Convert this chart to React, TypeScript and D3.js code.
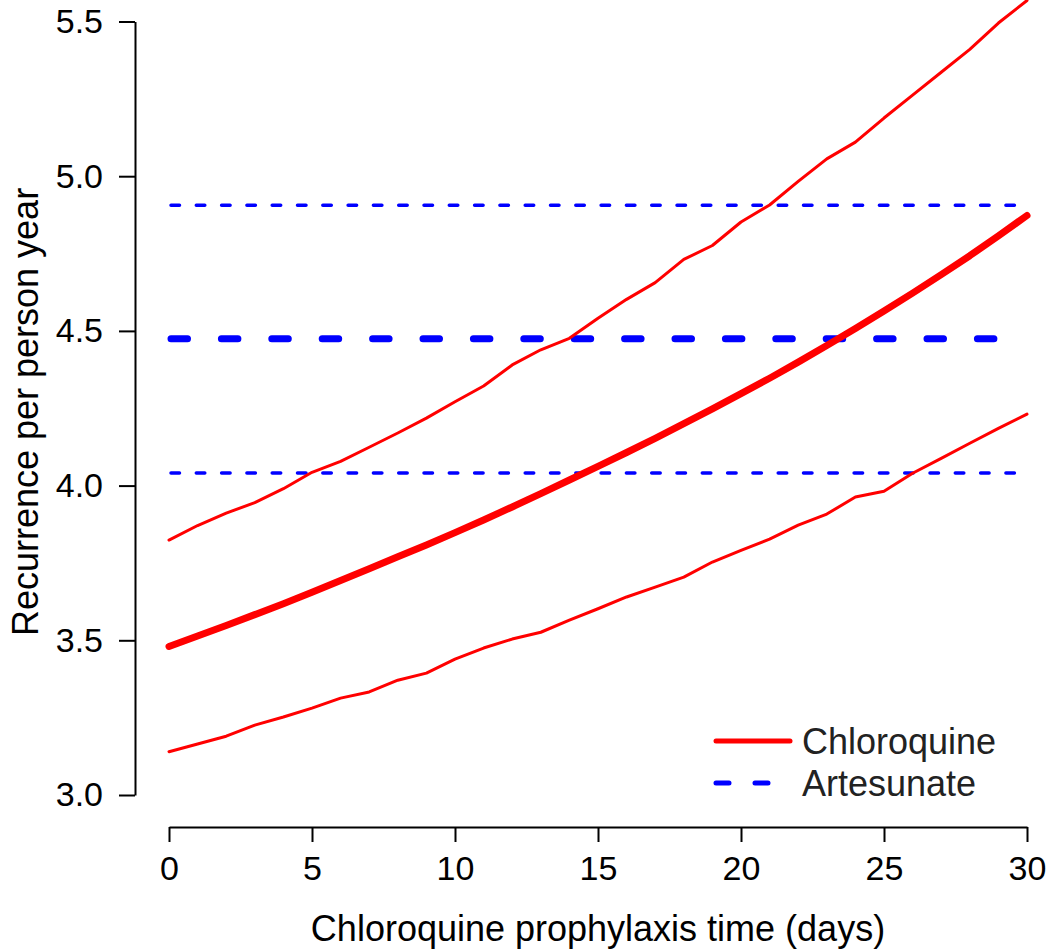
import React, { useEffect, useRef } from "react";
import * as d3 from "d3";

// days of chloroquine prophylaxis
const days = [
  0, 1, 2, 3, 4, 5, 6, 7, 8, 9, 10, 11, 12, 13, 14, 15, 16, 17, 18, 19, 20,
  21, 22, 23, 24, 25, 26, 27, 28, 29, 30,
];

// chloroquine estimate and its bounds
const chloroMid = [
  3.48, 3.514, 3.548, 3.583, 3.618, 3.655, 3.693, 3.731, 3.77, 3.808, 3.848,
  3.889, 3.931, 3.974, 4.018, 4.062, 4.107, 4.153, 4.2, 4.248, 4.297, 4.347,
  4.399, 4.453, 4.508, 4.564, 4.622, 4.682, 4.743, 4.807, 4.873,
];
const chloroUpper = [
  3.824, 3.871, 3.911, 3.945, 3.99, 4.043, 4.078, 4.124, 4.17, 4.218, 4.271,
  4.322, 4.39, 4.439, 4.476, 4.541, 4.602, 4.656, 4.731, 4.776, 4.852, 4.907,
  4.983, 5.056, 5.11, 5.188, 5.262, 5.336, 5.41, 5.495, 5.568,
];
const chloroLower = [
  3.14, 3.165, 3.19, 3.226, 3.252, 3.281, 3.313, 3.333, 3.371, 3.394, 3.439,
  3.475, 3.504, 3.526, 3.565, 3.602, 3.64, 3.672, 3.704, 3.753, 3.791, 3.827,
  3.872, 3.908, 3.963, 3.982, 4.04, 4.088, 4.137, 4.185, 4.231,
];

// artesunate: constant over prophylaxis time
const artesunateMid = 4.475;
const artesunateUpper = 4.906;
const artesunateLower = 4.041;

const xTicks = [0, 5, 10, 15, 20, 25, 30];
const yTicks = [3.0, 3.5, 4.0, 4.5, 5.0, 5.5];

const legendLabels = ["Chloroquine", "Artesunate"];

export default function App() {
  const ref = useRef<SVGSVGElement>(null);

  useEffect(() => {
    const svg = d3.select(ref.current);
    svg.selectAll("*").remove();

    const width = 1053,
      height = 951;
    const font = "'Liberation Sans', Arial, Helvetica, sans-serif";

    const x = d3.scaleLinear().domain([0, 30]).range([169, 1027]);
    const y = d3.scaleLinear().domain([3, 5.5]).range([795, 21.5]);

    svg.attr("width", width).attr("height", height);

    const line = d3
      .line<number>()
      .x((_, i) => x(days[i]))
      .y((d) => y(d));

    // artesunate dashed lines
    const flat = [
      { v: artesunateUpper, w: 3.5, dash: "8.5 16.8" },
      { v: artesunateLower, w: 3.5, dash: "8.5 16.8" },
      { v: artesunateMid, w: 7, dash: "16.5 33.9" },
    ];
    svg
      .selectAll(".flat")
      .data(flat)
      .enter()
      .append("line")
      .attr("x1", x(0) + 2)
      .attr("x2", x(30))
      .attr("y1", (d) => y(d.v))
      .attr("y2", (d) => y(d.v))
      .attr("stroke", "#0000ff")
      .attr("stroke-width", (d) => d.w)
      .attr("stroke-dasharray", (d) => d.dash)
      .attr("stroke-linecap", "round");

    // chloroquine lines
    [
      { data: chloroUpper, w: 3 },
      { data: chloroLower, w: 3 },
      { data: chloroMid, w: 7 },
    ].forEach((s) => {
      svg
        .append("path")
        .attr("d", line(s.data))
        .attr("fill", "none")
        .attr("stroke", "#ff0000")
        .attr("stroke-width", s.w)
        .attr("stroke-linecap", "round")
        .attr("stroke-linejoin", "round");
    });

    // axes
    const yAxis = svg
      .append("g")
      .attr("transform", "translate(135,0)")
      .call(
        d3
          .axisLeft(y)
          .tickValues(yTicks)
          .tickFormat(d3.format(".1f"))
          .tickSize(16)
          .tickSizeOuter(0)
          .tickPadding(16)
      );
    const xAxis = svg
      .append("g")
      .attr("transform", "translate(0,827)")
      .call(
        d3
          .axisBottom(x)
          .tickValues(xTicks)
          .tickSize(15)
          .tickSizeOuter(0)
          .tickPadding(14)
      );
    [yAxis, xAxis].forEach((g) => {
      g.selectAll("path, line").attr("stroke", "#000").attr("stroke-width", 2);
      g.selectAll("text")
        .attr("fill", "#000")
        .style("font-family", font)
        .style("font-size", "34px");
    });

    // axis titles
    svg
      .append("text")
      .attr("x", 598)
      .attr("y", 941)
      .attr("text-anchor", "middle")
      .style("font-family", font)
      .style("font-size", "36px")
      .text("Chloroquine prophylaxis time (days)");
    svg
      .append("text")
      .attr("transform", "translate(38,412) rotate(-90)")
      .attr("text-anchor", "middle")
      .style("font-family", font)
      .style("font-size", "36px")
      .text("Recurrence per person year");

    // legend
    const legend = svg.append("g").attr("transform", "translate(714,741)");
    legendLabels.forEach((label, i) => {
      const row = legend.append("g").attr("transform", `translate(0,${i * 42})`);
      row
        .append("line")
        .attr("x1", 2)
        .attr("x2", 76)
        .attr("stroke", i === 0 ? "#ff0000" : "#0000ff")
        .attr("stroke-width", 5)
        .attr("stroke-linecap", "round")
        .attr("stroke-dasharray", i === 0 ? null : "13 26");
      row
        .append("text")
        .attr("x", 88)
        .attr("dy", "0.36em")
        .style("font-family", font)
        .style("font-size", "36px")
        .attr("fill", "#222")
        .text(label);
    });
  }, []);

  return (
    <svg
      ref={ref}
      style={{ position: "absolute", left: 0, top: 0, background: "#fff" }}
    ></svg>
  );
}
